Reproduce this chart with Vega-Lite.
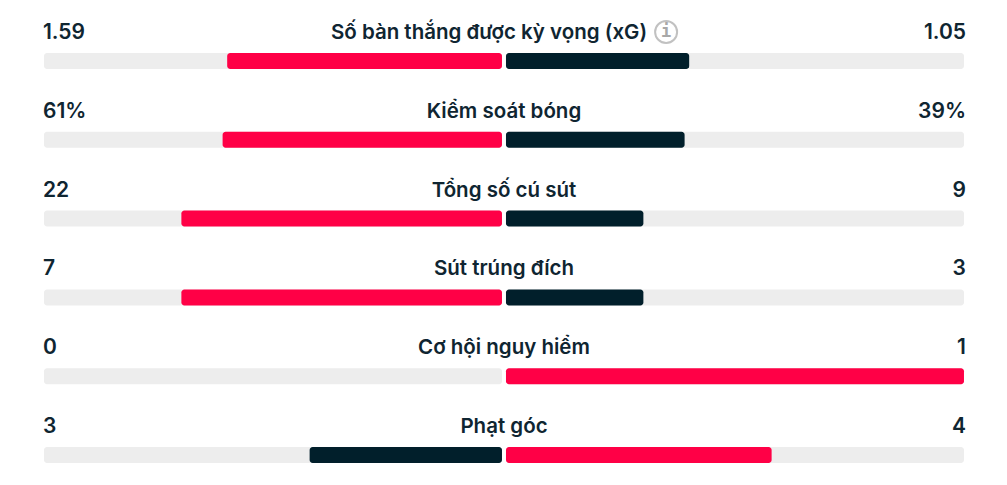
{
  "$schema": "https://vega.github.io/schema/vega-lite/v6.json",
  "width": 1007,
  "height": 485,
  "padding": 0,
  "autosize": "none",
  "background": "#ffffff",
  "view": {"stroke": null},
  "datasets": {
    "stats": [
      {"stat": "Số bàn thắng được kỳ vọng (xG)", "note": "i"},
      {"stat": "Kiểm soát bóng"},
      {"stat": "Tổng số cú sút"},
      {"stat": "Sút trúng đích"},
      {"stat": "Cơ hội nguy hiểm"},
      {"stat": "Phạt góc"}
    ],
    "bars": [
      {"stat": "Số bàn thắng được kỳ vọng (xG)", "share": -0.6, "track": -1, "lead": "higher", "label": "1.59"},
      {"stat": "Số bàn thắng được kỳ vọng (xG)", "share": 0.4, "track": 1, "lead": "lower", "label": "1.05"},
      {"stat": "Kiểm soát bóng", "share": -0.61, "track": -1, "lead": "higher", "label": "61%"},
      {"stat": "Kiểm soát bóng", "share": 0.39, "track": 1, "lead": "lower", "label": "39%"},
      {"stat": "Tổng số cú sút", "share": -0.7, "track": -1, "lead": "higher", "label": "22"},
      {"stat": "Tổng số cú sút", "share": 0.3, "track": 1, "lead": "lower", "label": "9"},
      {"stat": "Sút trúng đích", "share": -0.7, "track": -1, "lead": "higher", "label": "7"},
      {"stat": "Sút trúng đích", "share": 0.3, "track": 1, "lead": "lower", "label": "3"},
      {"stat": "Cơ hội nguy hiểm", "share": 0, "track": -1, "lead": "lower", "label": "0"},
      {"stat": "Cơ hội nguy hiểm", "share": 1, "track": 1, "lead": "higher", "label": "1"},
      {"stat": "Phạt góc", "share": -0.42, "track": -1, "lead": "lower", "label": "3"},
      {"stat": "Phạt góc", "share": 0.58, "track": 1, "lead": "higher", "label": "4"}
    ]
  },
  "data": {"name": "bars"},
  "encoding": {
    "y": {
      "field": "stat",
      "type": "nominal",
      "sort": null,
      "scale": {"type": "point", "padding": 0, "range": [61, 455]},
      "axis": null
    }
  },
  "resolve": {"scale": {"x": "shared", "y": "shared"}},
  "layer": [
    {
      "mark": {
        "type": "bar",
        "height": 16,
        "color": "#ededed",
        "cornerRadius": 3,
        "xOffset": {"expr": "datum.track < 0 ? -2 : 2"},
        "x2Offset": {"expr": "datum.track < 0 ? -2 : 2"}
      },
      "encoding": {
        "x": {
          "field": "track",
          "type": "quantitative",
          "scale": {"domain": [-1.1004, 1.0983], "range": [0, 1007], "nice": false, "zero": false},
          "axis": null
        },
        "x2": {"datum": 0}
      }
    },
    {
      "transform": [{"filter": "datum.share != 0"}],
      "mark": {
        "type": "bar",
        "height": 16,
        "cornerRadius": 3,
        "xOffset": {"expr": "datum.track < 0 ? -2 : 2"},
        "x2Offset": {"expr": "datum.track < 0 ? -2 : 2"}
      },
      "encoding": {
        "x": {"field": "share", "type": "quantitative"},
        "x2": {"datum": 0},
        "color": {
          "field": "lead",
          "type": "nominal",
          "scale": {"domain": ["higher", "lower"], "range": ["#ff0046", "#011f2b"]},
          "legend": null
        }
      }
    },
    {
      "mark": {
        "type": "text",
        "font": "Inter",
        "fontSize": 21,
        "fontWeight": 600,
        "color": "#0f2531",
        "yOffset": -28,
        "align": {"expr": "datum.track < 0 ? 'left' : 'right'"},
        "xOffset": {"expr": "datum.track < 0 ? -3 : 4"}
      },
      "encoding": {
        "x": {"field": "track", "type": "quantitative"},
        "text": {"field": "label"}
      }
    },
    {
      "data": {"name": "stats"},
      "mark": {
        "type": "text",
        "font": "Inter",
        "fontSize": 20.5,
        "fontWeight": 600,
        "color": "#0f2531",
        "yOffset": -28,
        "align": "center",
        "xOffset": {"expr": "datum.note ? -15 : 0"}
      },
      "encoding": {
        "x": {"datum": 0},
        "text": {"field": "stat"}
      }
    },
    {
      "data": {"name": "stats"},
      "transform": [{"filter": "datum.note"}],
      "mark": {
        "type": "point",
        "shape": "circle",
        "size": 484,
        "filled": false,
        "stroke": "#a8a8a8",
        "strokeWidth": 2,
        "yOffset": -29
      },
      "encoding": {"x": {"datum": 0.354}}
    },
    {
      "data": {"name": "stats"},
      "transform": [{"filter": "datum.note"}],
      "mark": {
        "type": "text",
        "font": "DejaVu Sans Mono",
        "fontSize": 17,
        "fontWeight": "bold",
        "color": "#a8a8a8",
        "yOffset": -29,
        "align": "center"
      },
      "encoding": {
        "x": {"datum": 0.354},
        "text": {"field": "note"}
      }
    }
  ]
}
